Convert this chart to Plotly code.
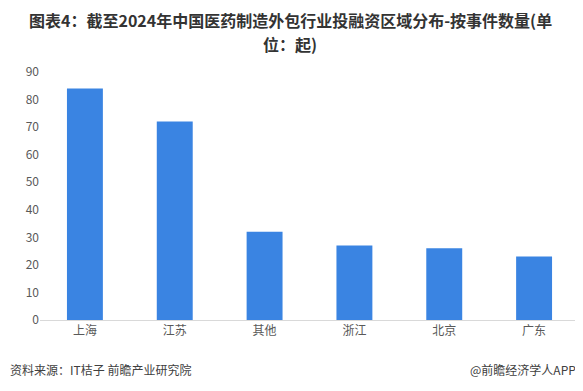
import plotly.graph_objects as go

categories = ["上海", "江苏", "其他", "浙江", "北京", "广东"]
values = [84, 72, 32, 27, 26, 23]
tick_vals = [0, 10, 20, 30, 40, 50, 60, 70, 80, 90]
title_lines = ["图表4：截至2024年中国医药制造外包行业投融资区域分布-按事件数量(单", "位：起)"]
source_text = "资料来源：IT桔子 前瞻产业研究院"
brand_text = "@前瞻经济学人APP"

FONT = "Noto Sans CJK SC"

# The HTML page adds an 8px body margin, so the figure is sized to fit inside the window.
W, H = 575, 383
L, R, T, B = 32, 4, 64, 71
plot_w = W - L - R
plot_h = H - T - B


def px_x(x):
    return (x - L) / plot_w


def px_y(y):
    return (H - B - y) / plot_h


fig = go.Figure(go.Bar(
    x=categories, y=values,
    marker=dict(color="#3A84E2", line=dict(width=0)),
))

annotations = []
for line, yc in zip(title_lines, [12.5, 36]):
    annotations.append(dict(
        text="<b>" + line + "</b>", x=px_x(282), y=px_y(yc),
        xref="paper", yref="paper", showarrow=False,
        xanchor="center", yanchor="middle", borderpad=0,
        font=dict(family=FONT, size=16, color="#333333"),
    ))
annotations += [
    dict(text=source_text, x=px_x(0), y=px_y(361),
         xref="paper", yref="paper",
         showarrow=False, xanchor="left", yanchor="middle",
         font=dict(family=FONT, size=12, color="#404040")),
    dict(text=brand_text, x=px_x(570), y=px_y(361),
         xref="paper", yref="paper",
         showarrow=False, xanchor="right", yanchor="middle",
         font=dict(family=FONT, size=12, color="#404040")),
]

fig.update_layout(
    width=W, height=H,
    margin=dict(l=L, r=R, t=T, b=B),
    paper_bgcolor="white", plot_bgcolor="white",
    bargap=0.6,
    showlegend=False,
    font=dict(family=FONT, size=12, color="#595959"),
    xaxis=dict(
        showline=True, linecolor="#D9D9D9", linewidth=1,
        ticks="", tickfont=dict(size=12, color="#595959"),
        showgrid=False,
    ),
    yaxis=dict(
        range=[0, 90], tickvals=tick_vals, showgrid=False, zeroline=False,
        showline=False, ticks="", tickfont=dict(size=12, color="#595959"),
    ),
    annotations=annotations,
)

fig.write_html("out.html")
